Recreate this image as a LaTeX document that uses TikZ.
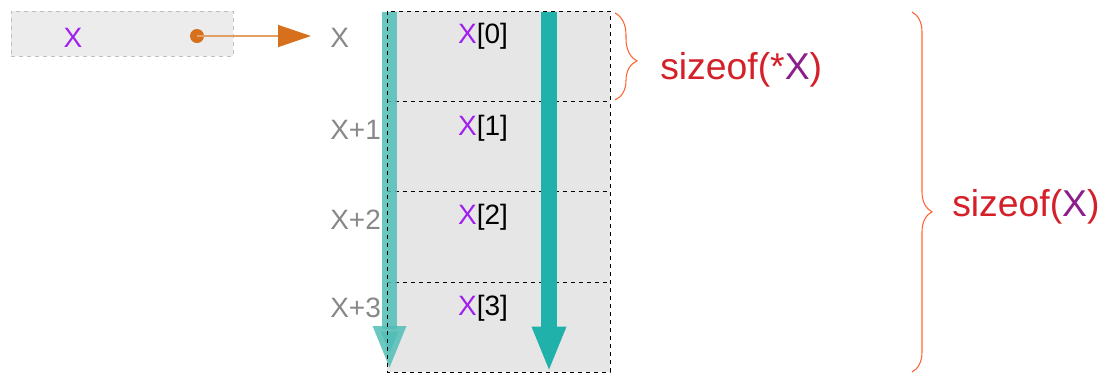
\documentclass[tikz,border=0pt]{standalone}
\usepackage{fontspec}
\setmainfont{Liberation Sans}
\usetikzlibrary{calc, positioning, arrows.meta, decorations.pathreplacing}
\definecolor{varBg}{RGB}{236, 236, 236}
\definecolor{varLine}{RGB}{190, 190, 190}
\definecolor{cellBg}{RGB}{230, 230, 230}
\definecolor{ptrC}{RGB}{214, 112, 28}
\definecolor{ptrLine}{RGB}{228, 160, 100}
\definecolor{addrC}{RGB}{136, 136, 136}
\definecolor{nameC}{RGB}{160, 32, 240}
\definecolor{walkLight}{RGB}{80, 190, 182}
\definecolor{walkDark}{RGB}{32, 178, 170}
\definecolor{braceC}{RGB}{255, 100, 50}
\definecolor{sizeC}{RGB}{212, 32, 40}
\definecolor{sizeX}{RGB}{140, 30, 140}

\begin{document}
\begin{tikzpicture}[x=0.75pt, y=-0.75pt, font=\fontsize{21}{25}\selectfont]
  \useasboundingbox (0,0) rectangle (1099,376);

  % pointer variable
  \node[draw=varLine, dashed, fill=varBg, minimum width=166.5pt,
        minimum height=33.75pt, inner sep=0pt] (var) at (122,33.5) {};
  \node[text=nameC] (varname) at (73,38) {X};
  \coordinate (dot) at (197,36);

  % array cells
  \node[fill=cellBg, minimum width=167.25pt, minimum height=67.7pt,
        inner sep=0pt, outer sep=0pt] (cell0) at (498.5,56.1) {};
  \node[fill=cellBg, minimum width=167.25pt, minimum height=67.7pt,
        inner sep=0pt, outer sep=0pt, below=0pt of cell0] (cell1) {};
  \node[fill=cellBg, minimum width=167.25pt, minimum height=67.7pt,
        inner sep=0pt, outer sep=0pt, below=0pt of cell1] (cell2) {};
  \node[fill=cellBg, minimum width=167.25pt, minimum height=67.7pt,
        inner sep=0pt, outer sep=0pt, below=0pt of cell2] (cell3) {};
  \draw[dashed] (cell0.north west) rectangle (cell3.south east);
  \draw[dashed] (cell1.north west) -- (cell1.north east);
  \draw[dashed] (cell2.north west) -- (cell2.north east);
  \draw[dashed] (cell3.north west) -- (cell3.north east);

  % walking arrows
  \draw[walkLight, opacity=0.85, line width=11.25pt, -{Triangle[length=33pt, width=22.5pt]}]
    ([xshift=1.9pt, yshift=-0.8pt]cell0.north west) -- ([xshift=1.9pt, yshift=1.5pt]cell3.south west);
  \draw[walkDark, line width=12pt, -{Triangle[length=34pt, width=23.25pt]}]
    ([xshift=-45.75pt, yshift=-0.8pt]cell0.north east) -- ([xshift=-45.75pt]cell3.south east);

  % left edge stays visible through the light arrow
  \draw[dashed] (cell0.north west) -- (cell3.south west);

  % element labels
  \node[inner sep=0pt] (el0) at ([xshift=-11.6pt, yshift=-19pt]cell0.north) {\textcolor{nameC}{X}[0]};
  \node[inner sep=0pt] (el1) at ([xshift=-11.6pt, yshift=-20pt]cell1.north) {\textcolor{nameC}{X}[1]};
  \node[inner sep=0pt] (el2) at ([xshift=-11.6pt, yshift=-19.5pt]cell2.north) {\textcolor{nameC}{X}[2]};
  \node[inner sep=0pt] (el3) at ([xshift=-11.6pt, yshift=-19.5pt]cell3.north) {\textcolor{nameC}{X}[3]};

  % addresses
  \node[text=addrC, inner sep=0pt, anchor=west] (addr0) at ([xshift=-42.75pt, yshift=-20pt]cell0.north west) {X};
  \node[text=addrC, inner sep=0pt, anchor=west] (addr1) at ([xshift=-42.75pt, yshift=-21.5pt]cell1.north west) {X+1};
  \node[text=addrC, inner sep=0pt, anchor=west] (addr2) at ([xshift=-42.75pt, yshift=-21.5pt]cell2.north west) {X+2};
  \node[text=addrC, inner sep=0pt, anchor=west] (addr3) at ([xshift=-42.75pt, yshift=-19.5pt]cell3.north west) {X+3};

  % pointer arrow
  \fill[ptrC] (dot) circle (5.25pt);
  \draw[ptrLine, line width=1.1pt, shorten >=14.25pt,
        -{Triangle[length=24.75pt, width=16.5pt, color=ptrC]}] (dot) -- (dot -| addr0.west);

  % sizes
  \draw[braceC, line width=0.8pt, decorate, decoration={brace, amplitude=16.5pt, aspect=0.55}]
    (615,13) -- (615,100);
  \draw[braceC, line width=0.8pt, decorate, decoration={brace, amplitude=15pt, aspect=0.555}]
    (912,12) -- (912,372);
  \node[text=sizeC, inner sep=0pt, anchor=west, font=\fontsize{28}{32}\selectfont] (szElem)
    at (660,70) {sizeof(*\textcolor{sizeX}{X})};
  \node[text=sizeC, inner sep=0pt, anchor=west, font=\fontsize{28}{32}\selectfont] (szAll)
    at (952,207) {sizeof(\textcolor{sizeX}{X})};
\end{tikzpicture}
\end{document}
